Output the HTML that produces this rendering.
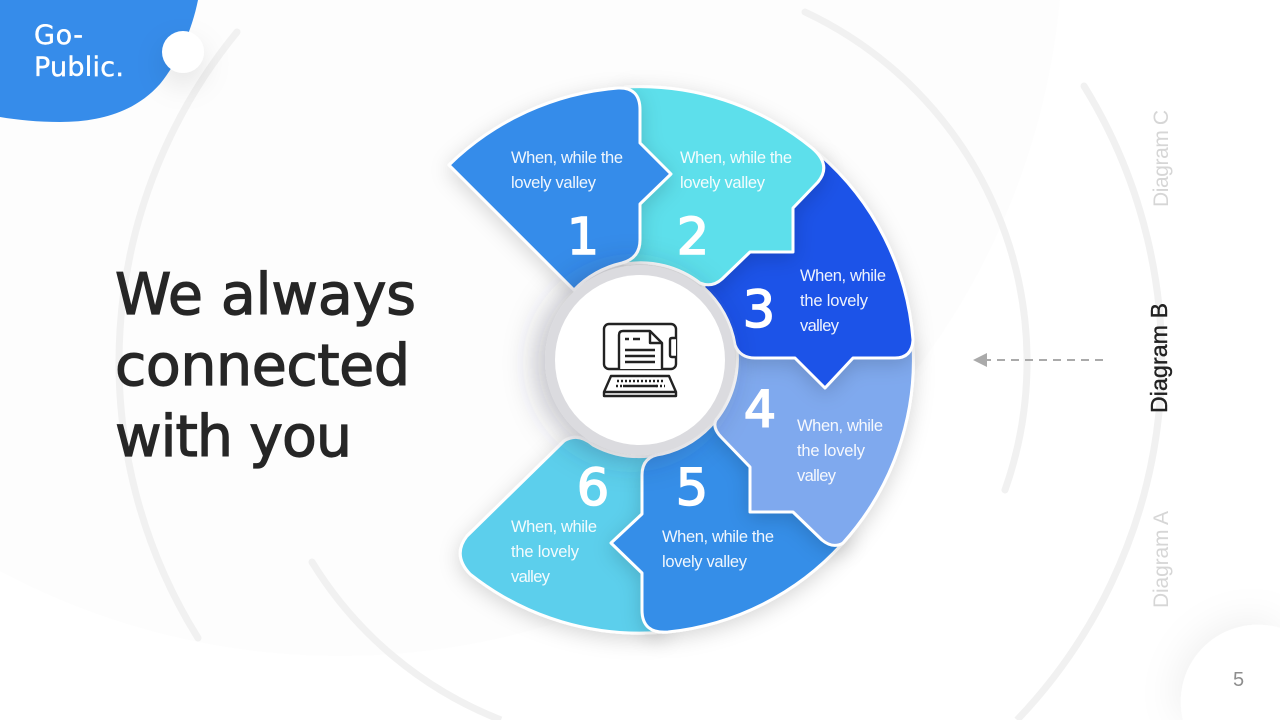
<!DOCTYPE html>
<html><head><meta charset="utf-8"><style>
html,body{margin:0;padding:0;background:#fff;width:1280px;height:720px;overflow:hidden}
svg{display:block;position:absolute;left:0;top:0}
text{font-family:"Liberation Sans",sans-serif}
.t{fill:#fff;font-size:16.5px;opacity:.93}
.n{fill:#fff;font-size:51px;text-anchor:middle;font-family:"DejaVu Sans",sans-serif;stroke:#fff;stroke-width:1.6px}
.h{fill:#262626;font-size:57px;font-family:"DejaVu Sans",sans-serif;stroke:#262626;stroke-width:1.2px}
.b{font-family:"DejaVu Sans",sans-serif;font-size:27px;fill:#fff;stroke:#fff;stroke-width:.4px}
.s{stroke:#fff;stroke-width:3;filter:url(#ds);stroke-linejoin:round}
.arc{fill:none;stroke:#f1f1f1;stroke-width:7;stroke-linecap:round}
.arc2{fill:none;stroke:#f1f1f1;stroke-width:7}
.i{fill:none;stroke:#222;stroke-width:2.4;stroke-linejoin:round}
</style></head><body>
<svg width="1280" height="720" viewBox="0 0 1280 720" xmlns="http://www.w3.org/2000/svg">
<defs>
<filter id="ds" x="-30%" y="-30%" width="160%" height="170%"><feDropShadow dx="0" dy="5" stdDeviation="10" flood-color="#000" flood-opacity=".16"/></filter>
<filter id="ds2" x="-50%" y="-50%" width="200%" height="200%"><feDropShadow dx="-8" dy="3" stdDeviation="16" flood-color="#30304a" flood-opacity=".33"/></filter>
<filter id="ds3" x="-50%" y="-50%" width="200%" height="200%"><feDropShadow dx="-3" dy="-3" stdDeviation="20" flood-color="#000" flood-opacity=".07"/></filter>
<filter id="ds4" x="-150%" y="-150%" width="400%" height="400%"><feDropShadow dx="0" dy="12" stdDeviation="14" flood-color="#000" flood-opacity=".1"/></filter>
</defs>
<rect width="1280" height="720" fill="#fff"/>
<circle cx="340" cy="-67" r="723" fill="#fdfdfd"/>

<path class="arc" d="M237,32 A521,521 0 0 0 198,638"/>
<path class="arc" d="M805,12 A386,386 0 0 1 1005,490"/>
<path class="arc2" d="M312,562 A386,386 0 0 0 501,720"/>
<circle cx="312" cy="562" r="3.5" fill="#f1f1f1"/>
<path class="arc2" d="M1084,86 A521,521 0 0 1 1017,720"/>
<circle cx="1084" cy="86" r="3.5" fill="#f1f1f1"/>

<path d="M1183,720 A77,77 0 0 1 1280,628 V720 Z" fill="#fff" filter="url(#ds3)"/>
<text x="1233" y="686" font-size="20" fill="#8e8e8e">5</text>

<path d="M0,0 H198 C192,30 178,62 160,84 C135,112 100,122 60,122 C38,122 18,120 0,117 Z" fill="#368cea"/>
<circle cx="183" cy="52" r="21" fill="#fff" filter="url(#ds4)"/>
<text class="b" x="34" y="44" textLength="49">Go-</text>
<text class="b" x="34" y="76" textLength="90">Public.</text>

<text class="h" x="115" y="314" textLength="301">We always</text>
<text class="h" x="115" y="385" textLength="295">connected</text>
<text class="h" x="115" y="456" textLength="237">with you</text>

<path class="s" fill="#5ccfec" d="M660,455 L650,456 A97,97 0 0 1 593,445 Q578,432 564,441 L467,536 Q452,555 470,574 A273,273 0 0 0 664,632 Z"/>
<path class="s" fill="#368ee8" d="M720,415 L850,535 L842,544 A273,273 0 0 1 668,632 Q642,634 642,610 V573 L611,543 L642,514 V475 Q642,456 662,454 A97,97 0 0 0 716,420 Z"/>
<path class="s" fill="#7fa9ee" d="M737,350 L913,345 A273,273 0 0 1 843,543 Q833,549 822,540 L793,512 H750 V467 L722,438 Q712,428 716,420 A97,97 0 0 0 737,350 Z"/>
<path class="s" fill="#1e52e8" d="M780,200 L819,154 A273,273 0 0 1 913,340 Q912,358 895,358 H853 L825,388 L795,358 H755 Q740,358 735,345 A97,97 0 0 0 703,287 Z"/>
<path class="s" fill="#5ddfeb" d="M625,87 A273,273 0 0 1 812,148 Q832,165 818,182 L793,208 V252 H750 L722,279 Q712,288 700,283 A97,97 0 0 0 625,264 Z"/>
<path class="s" fill="#368cea" d="M449,165 A273,273 0 0 1 618,88 Q640,87 640,110 V143 L671,174 L640,204 V240 Q640,258 622,263 A97,97 0 0 0 574,290 Z"/>

<circle cx="640" cy="360" r="95" fill="#dbdbdf" filter="url(#ds2)"/>
<circle cx="640" cy="360" r="85" fill="#fff"/>

<!-- icon -->
<rect class="i" x="604" y="324" width="72" height="45" rx="5"/>
<path d="M619,369 V335 Q619,331 623,331 H650 L662,343 V369" fill="#fff" stroke="#222" stroke-width="2.4" stroke-linejoin="round"/>
<path class="i" d="M650,331 V343 H662"/>
<path class="i" d="M625,339 H629 M633,339 H640 M625,350 H655 M625,356 H655 M625,362 H655"/>
<path d="M676,338 H672 Q670,338 670,340 V355 Q670,357 672,357 H676" fill="#fff" stroke="#222" stroke-width="2.4" stroke-linejoin="round"/>
<path fill="#fff" stroke="#222" stroke-width="2.4" stroke-linejoin="round" d="M611,376 H669 L676,392 V396 H604 V392 Z M604,392 H676"/>
<path d="M617,381 H664 M616,386 H624 M656,386 H665" stroke="#222" stroke-width="2.5" stroke-dasharray="2 2" fill="none"/>
<path d="M623,386 H657" stroke="#222" stroke-width="2.5" fill="none"/>

<text class="t" x="511" y="163" textLength="112">When, while the</text>
<text class="t" x="511" y="188" textLength="85">lovely valley</text>
<text class="t" x="680" y="163" textLength="112">When, while the</text>
<text class="t" x="680" y="188" textLength="85">lovely valley</text>
<text class="t" x="800" y="281" textLength="86">When, while</text>
<text class="t" x="800" y="306" textLength="68">the lovely</text>
<text class="t" x="800" y="331" textLength="39">valley</text>
<text class="t" x="797" y="431" textLength="86">When, while</text>
<text class="t" x="797" y="456" textLength="68">the lovely</text>
<text class="t" x="797" y="481" textLength="39">valley</text>
<text class="t" x="662" y="542" textLength="112">When, while the</text>
<text class="t" x="662" y="567" textLength="85">lovely valley</text>
<text class="t" x="511" y="532" textLength="86">When, while</text>
<text class="t" x="511" y="557" textLength="68">the lovely</text>
<text class="t" x="511" y="582" textLength="39">valley</text>

<text class="n" x="583" y="254">1</text>
<text class="n" x="693" y="254">2</text>
<text class="n" x="759" y="327">3</text>
<text class="n" x="760" y="427">4</text>
<text class="n" x="692" y="505">5</text>
<text class="n" x="593" y="505">6</text>

<path d="M1103,360 H987" stroke="#aaa" stroke-width="2" stroke-dasharray="8 6" fill="none"/>
<path d="M973,360 L987,353 V367 Z" fill="#aaa"/>

<text transform="translate(1168,207) rotate(-90)" font-size="21" fill="#d6d6d6" textLength="97">Diagram C</text>
<text transform="translate(1167,413) rotate(-90)" font-size="23" fill="#222" stroke="#222" stroke-width=".4" textLength="110">Diagram B</text>
<text transform="translate(1168,608) rotate(-90)" font-size="21" fill="#d6d6d6" textLength="97">Diagram A</text>
</svg>
</body></html>
